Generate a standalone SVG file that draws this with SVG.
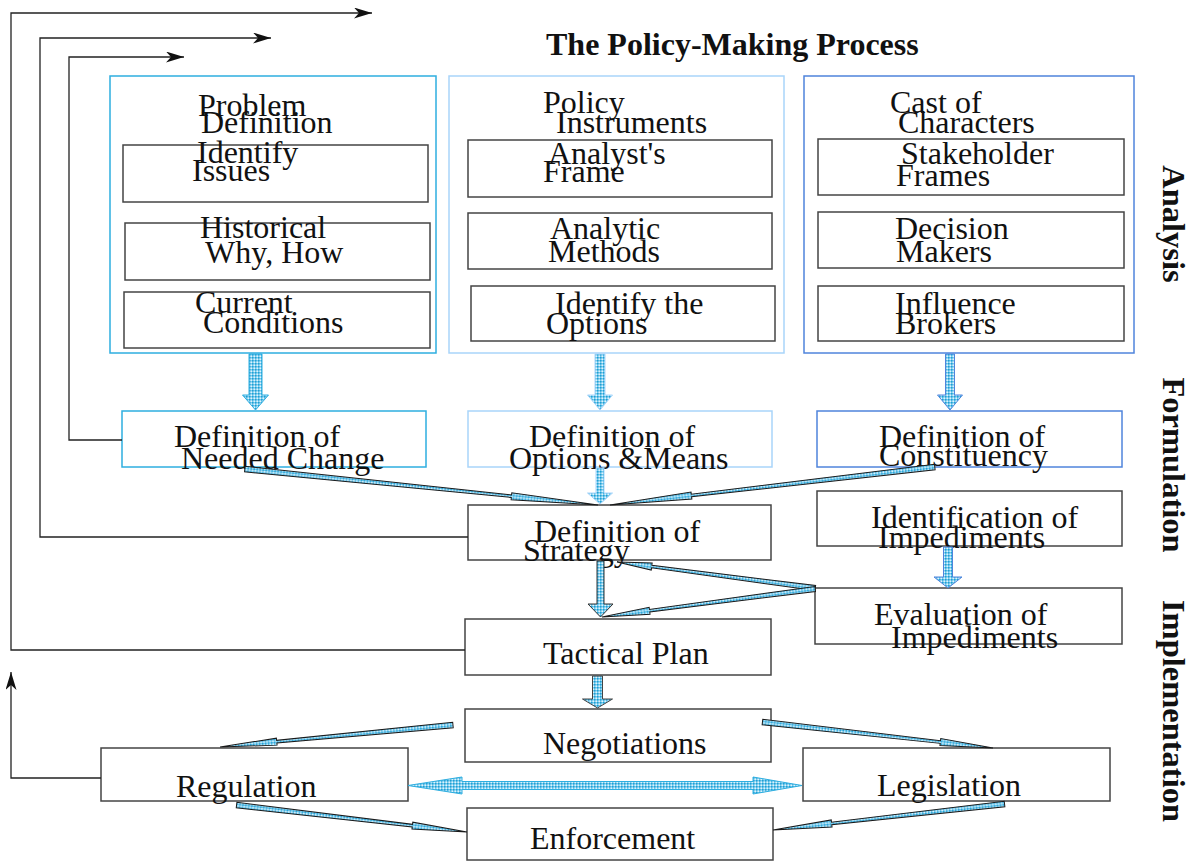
<svg xmlns="http://www.w3.org/2000/svg" width="1199" height="861" viewBox="0 0 1199 861">
<style>
text{font-family:"Liberation Serif","Times New Roman",serif;font-size:32px;fill:#111}
.title{font-weight:bold;font-size:32px}
.side{font-weight:bold;font-size:32.5px;text-anchor:middle}
.box{fill:#fff;stroke:#444;stroke-width:1.5}
.cyan{fill:none;stroke:#2eaee0;stroke-width:1.5}
.lblue{fill:none;stroke:#a9d5fa;stroke-width:1.5}
.dblue{fill:none;stroke:#4f84dc;stroke-width:1.5}
.fcyan{fill:#fff;stroke:#2eaee0;stroke-width:1.5}
.flblue{fill:#fff;stroke:#a9d5fa;stroke-width:1.5}
.fdblue{fill:#fff;stroke:#4f84dc;stroke-width:1.5}
.fb{fill:none;stroke:#222;stroke-width:1.3}
.blk{fill:url(#dots);stroke-width:1}
.thin{fill:url(#dots);stroke:#1a1a1a;stroke-width:1}
</style>
<defs>
<pattern id="dots" width="3" height="3" patternUnits="userSpaceOnUse">
<rect width="3" height="3" fill="#74c9ec"/>
<rect width="1.5" height="1.5" fill="#1f9fd4"/>
<rect x="1.5" y="1.5" width="1.5" height="1.5" fill="#dff3fc"/>
</pattern>
<marker id="ah" markerWidth="18" markerHeight="11" refX="18" refY="5.5" orient="auto" markerUnits="userSpaceOnUse">
<path d="M0,0 L18,5.5 L0,11 L5,5.5 z" fill="#111"/>
</marker>
</defs>

<text class="title" x="546" y="55">The Policy-Making Process</text>

<g id="column-problem">
<rect class="cyan" x="110" y="76" width="326" height="277"/>
<text x="198" y="116">Problem</text><text x="201" y="133">Definition</text>
</g>
<g id="identify-issues"><rect class="box" x="123" y="145" width="305" height="57"/><text x="197" y="163">Identify</text><text x="192" y="181">Issues</text></g>
<g id="historical"><rect class="box" x="125" y="223" width="305" height="57"/><text x="200" y="238">Historical</text><text x="205" y="263">Why, How</text></g>
<g id="current-conditions"><rect class="box" x="124" y="292" width="306" height="56"/><text x="195" y="313">Current</text><text x="203" y="333">Conditions</text></g>

<g id="column-policy">
<rect class="lblue" x="449" y="76" width="335" height="277"/>
<text x="543" y="113">Policy</text><text x="556" y="133">Instruments</text>
</g>
<g id="analysts-frame"><rect class="box" x="468" y="140" width="304" height="57"/><text x="548" y="164">Analyst's</text><text x="543" y="182">Frame</text></g>
<g id="analytic-methods"><rect class="box" x="468" y="213" width="304" height="56"/><text x="550" y="239">Analytic</text><text x="548" y="262">Methods</text></g>
<g id="identify-options"><rect class="box" x="471" y="286" width="304" height="55"/><text x="555" y="314">Identify the</text><text x="546" y="334">Options</text></g>

<g id="column-cast">
<rect class="dblue" x="804" y="76" width="330" height="277"/>
<text x="890" y="113">Cast of</text><text x="898" y="133">Characters</text>
</g>
<g id="stakeholder-frames"><rect class="box" x="818" y="139" width="306" height="56"/><text x="901" y="164">Stakeholder</text><text x="896" y="186">Frames</text></g>
<g id="decision-makers"><rect class="box" x="818" y="212" width="306" height="56"/><text x="895" y="239">Decision</text><text x="896" y="262">Makers</text></g>
<g id="influence-brokers"><rect class="box" x="818" y="286" width="306" height="55"/><text x="895" y="314">Influence</text><text x="895" y="334">Brokers</text></g>

<g id="needed-change"><rect class="fcyan" x="122" y="411" width="304" height="56"/><text x="174" y="447">Definition of</text><text x="181" y="469">Needed Change</text></g>
<g id="options-means"><rect class="flblue" x="468" y="411" width="304" height="56"/><text x="529" y="447">Definition of</text><text x="509" y="469">Options &amp;Means</text></g>
<g id="constituency"><rect class="fdblue" x="817" y="411" width="305" height="56"/><text x="879" y="447">Definition of</text><text x="879" y="466">Constituency</text></g>
<g id="strategy"><rect class="box" x="468" y="505" width="303" height="55"/><text x="534" y="542">Definition of</text><text x="523" y="561">Strategy</text></g>
<g id="identification"><rect class="box" x="817" y="491" width="305" height="55"/><text x="871" y="528">Identification of</text><text x="878" y="548">Impediments</text></g>
<g id="evaluation"><rect class="box" x="815" y="588" width="307" height="56"/><text x="874" y="625">Evaluation of</text><text x="891" y="648">Impediments</text></g>
<g id="tactical-plan"><rect class="box" x="465" y="619" width="306" height="56"/><text x="543" y="664">Tactical Plan</text></g>
<g id="negotiations"><rect class="box" x="465" y="709" width="306" height="53"/><text x="543" y="754">Negotiations</text></g>
<g id="regulation"><rect class="box" x="101" y="748" width="307" height="53"/><text x="176" y="797">Regulation</text></g>
<g id="legislation"><rect class="box" x="803" y="748" width="307" height="53"/><text x="877" y="796">Legislation</text></g>
<g id="enforcement"><rect class="box" x="467" y="808" width="306" height="52"/><text x="530" y="849">Enforcement</text></g>

<g id="phase-labels">
<text class="side" transform="translate(1163,224) rotate(90)">Analysis</text>
<text class="side" transform="translate(1163,465) rotate(90)">Formulation</text>
<text class="side" transform="translate(1163,711) rotate(90)">Implementation</text>
</g>

<g id="connectors">
<path class="fb" d="M465,650 H11 V13 H372" marker-end="url(#ah)"/>
<path class="fb" d="M468,537 H40 V38 H271" marker-end="url(#ah)"/>
<path class="fb" d="M122,440 H69 V57 H184" marker-end="url(#ah)"/>
<path class="fb" d="M101,778 H11 V672" marker-end="url(#ah)"/>

<polygon class="blk" stroke="#2eaee0" points="249,354 262,354 262,395 268.5,395 255.5,410 242.5,395 249,395"/>
<polygon class="blk" stroke="#a9d5fa" points="595,354 605,354 605,395 612.5,395 600,410 587.5,395 595,395"/>
<polygon class="blk" stroke="#4f84dc" points="945.5,354 954.5,354 954.5,395 962.5,395 950,410 937.5,395 945.5,395"/>
<polygon class="blk" stroke="#a9d5fa" points="596,468 604,468 604,493 612.5,493 600,504 587.5,493 596,493"/>
<polygon class="blk" stroke="#333" points="597,561 604,561 604,604 613,604 600.5,617 588,604 597,604"/>
<polygon class="blk" stroke="#4f84dc" points="943.5,547 952.5,547 952.5,577 962,577 948,588 934,577 943.5,577"/>
<polygon class="blk" stroke="#444" points="592.5,676 602.5,676 602.5,699 612.5,699 597.5,708 582.5,699 592.5,699"/>
<polygon class="blk" stroke="#2eaee0" points="408,785.5 462,777 462,781.5 753,781.5 753,777 802,785.5 753,794 753,789.5 462,789.5 462,794"/>

<polygon class="thin" stroke="#2aa6d8" transform="translate(598,505) rotate(-174.18)" points="0,0 87,-3.5 87,-1.3 355,-2.8 355,2.8 87,1.3 87,3.5"/>
<polygon class="thin" stroke="#3f6fd0" transform="translate(610,505) rotate(-6.67)" points="0,0 82,-3.5 82,-1.3 327,-2.8 327,2.8 82,1.3 82,3.5"/>
<polygon class="thin" transform="translate(617,562) rotate(7.48)" points="0,0 35,-3.5 35,-1.3 200,-2.5 200,2.5 35,1.3 35,3.5"/>
<polygon class="thin" transform="translate(602,617) rotate(-7.49)" points="0,0 48,-3.5 48,-1.3 215,-2.5 215,2.5 48,1.3 48,3.5"/>
<polygon class="thin" transform="translate(220,747) rotate(-5.39)" points="0,0 57,-3.5 57,-1.3 234,-2.8 234,2.8 57,1.3 57,3.5"/>
<polygon class="thin" transform="translate(993,748) rotate(-173.58)" points="0,0 53,-3.5 53,-1.3 232,-2.8 232,2.8 53,1.3 53,3.5"/>
<polygon class="thin" transform="translate(467,832) rotate(-173.33)" points="0,0 55,-3.5 55,-1.3 232,-2.8 232,2.8 55,1.3 55,3.5"/>
<polygon class="thin" transform="translate(773,830) rotate(-6.39)" points="0,0 59,-3.5 59,-1.3 233,-2.8 233,2.8 59,1.3 59,3.5"/>
</g>
</svg>
